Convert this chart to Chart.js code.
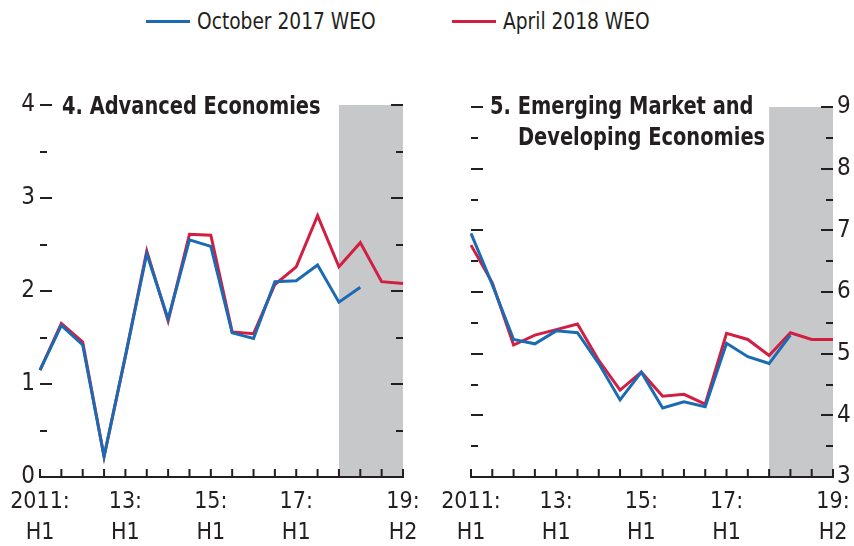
<!DOCTYPE html>
<html>
<head>
<meta charset="utf-8">
<script src="https://cdn.jsdelivr.net/npm/chart.js@4.4.1/dist/chart.umd.min.js"></script>
<style>
body { margin:0; background:#fff; width:854px; height:546px; position:relative; overflow:hidden;
       font-family:'Liberation Sans Narrow','DejaVu Sans Condensed',sans-serif; color:#231f20; }
canvas { position:absolute; top:0; }
#chartAE { left:0; }
#chartEM { left:427px; }
.legend { position:absolute; top:6px; font-size:23px; line-height:30px; white-space:nowrap; }
.legend span.txt { display:inline-block; transform:scaleX(0.9); transform-origin:left center; }
.swatch { display:inline-block; width:44px; height:3px; vertical-align:middle; margin-right:7px; position:relative; top:-1px; }
.title { position:absolute; font-weight:bold; font-size:24px; line-height:31px; white-space:nowrap;
         transform:scaleX(0.9); transform-origin:left top; }
</style>
</head>
<body>
<div class="legend" style="left:146px"><span class="swatch" style="background:#1a6bb4"></span><span class="txt">October 2017 WEO</span></div>
<div class="legend" style="left:452px"><span class="swatch" style="background:#d11f42"></span><span class="txt">April 2018 WEO</span></div>

<canvas id="chartAE" width="427" height="546"></canvas>
<canvas id="chartEM" width="427" height="546"></canvas>

<div class="title" style="left:62px;top:91px">4. Advanced Economies</div>
<div class="title" style="left:490px;top:91px">5. Emerging Market and<br><span style="padding-left:31px">Developing Economies</span></div>

<script>
// half-year periods, 2011:H1 - 2019:H2
const periods = ['2011H1','2011H2','2012H1','2012H2','2013H1','2013H2','2014H1','2014H2','2015H1',
                 '2015H2','2016H1','2016H2','2017H1','2017H2','2018H1','2018H2','2019H1','2019H2'];
const tickIndex = [0, 4, 8, 12, 17];
const tickText = [['2011:', 'H1'], ['13:', 'H1'], ['15:', 'H1'], ['17:', 'H1'], ['19:', 'H2']];
const shadeFrom = 14; // projections start 2018H1

// Advanced economies
const aeOct2017 = [1.15, 1.63, 1.42, 0.22, 1.30, 2.40, 1.70, 2.55, 2.48, 1.55, 1.49, 2.10, 2.11, 2.28, 1.88, 2.04, null, null];
const aeApr2018 = [1.15, 1.65, 1.45, 0.22, 1.30, 2.43, 1.68, 2.61, 2.60, 1.56, 1.54, 2.07, 2.26, 2.81, 2.26, 2.52, 2.10, 2.08];
// Emerging market and developing economies
const emOct2017 = [6.95, 6.12, 5.23, 5.16, 5.37, 5.34, 4.84, 4.25, 4.70, 4.12, 4.22, 4.14, 5.17, 4.95, 4.84, 5.30, null, null];
const emApr2018 = [6.76, 6.15, 5.14, 5.30, 5.39, 5.48, 4.89, 4.41, 4.70, 4.31, 4.34, 4.18, 5.33, 5.23, 4.97, 5.34, 5.23, 5.23];

const FONT = "'Liberation Sans Narrow','DejaVu Sans Condensed',sans-serif";
const INK = '#231f20';
const BLUE = '#1a6bb4';
const RED = '#d11f42';

// grey projection band
const shade = {
    id: 'shade',
    beforeDatasetsDraw(chart) {
        const { ctx, chartArea: a, scales: { x } } = chart;
        const x0 = x.getPixelForValue(shadeFrom);
        ctx.save();
        ctx.fillStyle = '#c7c8ca';
        ctx.fillRect(x0, a.top, a.right - x0, a.bottom - a.top);
        ctx.restore();
    }
};

// inward tick marks on both sides + bottom axis
const tickMarks = {
    id: 'tickMarks',
    afterDatasetsDraw(chart) {
        const { ctx, chartArea: a, scales: { x, y } } = chart;
        ctx.save();
        ctx.strokeStyle = INK;
        ctx.lineWidth = 2;
        ctx.beginPath();
        ctx.moveTo(a.left - 1, a.bottom);
        ctx.lineTo(a.right + 1, a.bottom);
        for (let i = 0; i < periods.length; i++) {
            const px = x.getPixelForValue(i);
            ctx.moveTo(px, a.bottom);
            ctx.lineTo(px, a.bottom - 8);
        }
        for (let v = y.min + 0.5; v <= y.max + 0.001; v += 0.5) {
            const py = Math.round(y.getPixelForValue(v));
            const len = Number.isInteger(v) ? 12 : 7;
            ctx.moveTo(a.left, py);
            ctx.lineTo(a.left + len, py);
            ctx.moveTo(a.right, py);
            ctx.lineTo(a.right - len, py);
        }
        ctx.stroke();
        ctx.restore();
    }
};

function makeChart(id, oct, apr, yMin, yMax, yPos, pad) {
    return new Chart(document.getElementById(id), {
        type: 'line',
        data: {
            labels: periods,
            datasets: [
                { label: 'October 2017 WEO', data: oct, borderColor: BLUE, borderWidth: 3 },
                { label: 'April 2018 WEO', data: apr, borderColor: RED, borderWidth: 3 }
            ]
        },
        options: {
            responsive: false,
            animation: false,
            layout: { padding: pad },
            elements: { point: { radius: 0 }, line: { tension: 0 } },
            plugins: { legend: { display: false }, tooltip: { enabled: false } },
            scales: {
                x: {
                    grid: { display: false, drawTicks: false },
                    border: { display: false },
                    afterFit: s => {
                        s.height = 546 - 477 - pad.bottom;
                        s.paddingLeft = 0;
                        s.paddingRight = 0;
                    },
                    ticks: {
                        autoSkip: false, maxRotation: 0, padding: 10,
                        color: INK, font: { family: FONT, size: 23, lineHeight: 1.32 },
                        callback: (v, i) => {
                            const k = tickIndex.indexOf(i);
                            return k >= 0 ? tickText[k] : '';
                        }
                    }
                },
                y: {
                    position: yPos,
                    min: yMin, max: yMax,
                    grid: { display: false, drawTicks: false },
                    border: { display: false },
                    afterFit: s => {
                        s.width = yPos === 'left' ? 40 : 21;
                        s.paddingTop = 0;
                        s.paddingBottom = 0;
                    },
                    ticks: {
                        stepSize: 0.5, padding: yPos === 'left' ? 5 : 4,
                        color: INK, font: { family: FONT, size: 24 },
                        callback: v => Number.isInteger(v) ? v : ''
                    }
                }
            }
        },
        plugins: [shade, tickMarks]
    });
}

makeChart('chartAE', aeOct2017, aeApr2018, 0, 4, 'left', { top: 105, right: 24, bottom: 0, left: 0 });
makeChart('chartEM', emOct2017, emApr2018, 3, 9, 'right', { top: 107, right: 0, bottom: 0, left: 44 });
</script>
</body>
</html>
